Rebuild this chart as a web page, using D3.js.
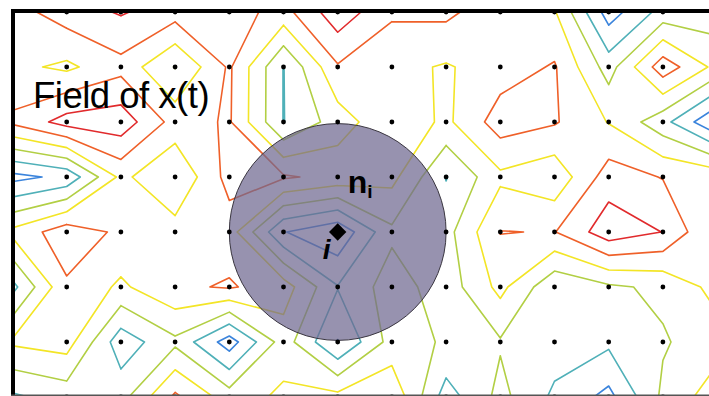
<!DOCTYPE html>
<html>
<head>
<meta charset="utf-8">
<script src="https://cdn.jsdelivr.net/npm/d3@7"></script>
<style>
  html, body { margin: 0; padding: 0; background: #ffffff; }
  svg { display: block; }
</style>
</head>
<body>
<script>
// Sampled field x(t) on the lattice, one array per lattice row (top to bottom)
const row0 = [4.6, 5.5, 6.1, 5.45, 5.43, 4.64, 6.64, 5.15, 5.24, 4.32, 4.1, 0.51, 2.37, 2.5];
const row1 = [4.25, 3.8, 4.67, 2.95, 5.15, 1.97, 4.9, 4.3, 3.9, 4.5, 5.1, 2.55, 5.6, 3.67];
const row2 = [5.2, 6.4, 6.6, 4.6, 5.11, 1.97, 3.48, 4.8, 3.78, 5.5, 5.1, 3.95, 2.35, 0.0];
const row3 = [0.7, 1.25, 4.25, 3.05, 5.37, 5.13, 4.7, 4.3, 1.95, 3.78, 3.27, 5.5, 4.95, 4.7];
const row4 = [4.27, 5.6, 4.8, 4.4, 4.5, 1.05, 0.2, 2.8, 2.64, 5.03, 4.96, 6.6, 5.98, 3.85];
const row5 = [1.7, 4.85, 3.82, 4.82, 5.1, 4.5, 2.05, 3.5, 2.45, 4.29, 2.2, 2.83, 3.2, 4.35];
const row6 = [4.16, 4.45, 1.4, 2.78, 0.5, 3.5, 0.95, 3.4, 2.9, 2.9, 2.5, 2.2, 2.9, 3.57];
const row7 = [1.83, 2.41, 2.62, 5.2, 3.5, 4.2, 4.3, 4.8, 1.52, 3.3, 1.8, 0.7, 3.2, 4.6];
const fieldRows = [row0, row1, row2, row3, row4, row5, row6, row7];

// Iso-levels drawn as contour lines (low to high)
const levels = [1, 2, 3, 4, 5, 6];

// Node i and the radius of its neighbourhood n_i, in lattice units
const nodeI = [6, 4];
const neighbourRadius = 2;

const titleText = "Field of x(t)";

const W = 709, H = 396;
const nCols = row0.length, nRows = fieldRows.length;

const svg = d3.select("body").append("svg")
  .attr("width", W).attr("height", H);

const x = d3.scaleLinear().domain([0, nCols - 1]).range([12.5, 717.1]);
const y = d3.scaleLinear().domain([0, nRows - 1]).range([12, 397]);
const color = d3.scaleOrdinal()
  .domain(levels)
  .range(["#3b84dc", "#4fb0b8", "#b2cf44", "#f3e526", "#ef6029", "#e12a2c"]);

// Marching squares with linear interpolation along cell edges
function isoSegments(grid, L) {
  const segs = [];
  for (let j = 0; j < grid.length - 1; j++) {
    for (let i = 0; i < grid[j].length - 1; i++) {
      const tl = grid[j][i], tr = grid[j][i + 1];
      const br = grid[j + 1][i + 1], bl = grid[j + 1][i];
      const pts = {};
      if ((tl > L) !== (tr > L)) pts.top = [i + (L - tl) / (tr - tl), j];
      if ((tr > L) !== (br > L)) pts.right = [i + 1, j + (L - tr) / (br - tr)];
      if ((bl > L) !== (br > L)) pts.bottom = [i + (L - bl) / (br - bl), j + 1];
      if ((tl > L) !== (bl > L)) pts.left = [i, j + (L - tl) / (bl - tl)];
      const keys = Object.keys(pts);
      if (keys.length === 2) {
        segs.push([pts[keys[0]], pts[keys[1]]]);
      } else if (keys.length === 4) {
        const centreHigh = (tl + tr + br + bl) / 4 > L;
        if ((tl > L) !== centreHigh) segs.push([pts.top, pts.left]);
        if ((tr > L) !== centreHigh) segs.push([pts.top, pts.right]);
        if ((br > L) !== centreHigh) segs.push([pts.right, pts.bottom]);
        if ((bl > L) !== centreHigh) segs.push([pts.bottom, pts.left]);
      }
    }
  }
  return segs;
}

// Plot area clip
svg.append("defs").append("clipPath").attr("id", "plotClip")
  .append("rect").attr("x", 13).attr("y", 11).attr("width", W - 13).attr("height", H - 11);

const plot = svg.append("g").attr("clip-path", "url(#plotClip)");

// Contour lines
const line = d3.line().x(d => x(d[0])).y(d => y(d[1]));
plot.append("g").attr("class", "contours")
  .selectAll("path")
  .data(levels)
  .join("path")
  .attr("fill", "none")
  .attr("stroke", d => color(d))
  .attr("stroke-width", 1.6)
  .attr("stroke-linejoin", "round")
  .attr("stroke-linecap", "round")
  .attr("d", L => isoSegments(fieldRows, L).map(s => line(s)).join(""));

// Neighbourhood n_i of node i
plot.append("circle")
  .attr("cx", x(nodeI[0]))
  .attr("cy", y(nodeI[1]))
  .attr("r", x(neighbourRadius) - x(0))
  .attr("fill", "#6f6890")
  .attr("fill-opacity", 0.72)
  .attr("stroke", "#3a3640")
  .attr("stroke-width", 1);

// Lattice nodes
const nodes = [];
fieldRows.forEach((row, j) => row.forEach((v, i) => nodes.push([i, j])));
plot.append("g").attr("class", "nodes")
  .selectAll("circle")
  .data(nodes)
  .join("circle")
  .attr("cx", d => x(d[0]))
  .attr("cy", d => y(d[1]))
  .attr("r", 2.4)
  .attr("fill", "#000");

// Node i marker
plot.append("path")
  .attr("transform", `translate(${x(nodeI[0])},${y(nodeI[1])}) rotate(45)`)
  .attr("d", d3.symbol().type(d3.symbolSquare).size(150)())
  .attr("fill", "#000");

// Labels
svg.append("text")
  .attr("x", 33).attr("y", 108)
  .attr("font-family", "'Liberation Sans', Arial, sans-serif")
  .attr("font-size", 36.5)
  .attr("letter-spacing", -0.5)
  .attr("fill", "#000")
  .text(titleText);

const nLabel = svg.append("text")
  .attr("x", x(nodeI[0]) + 10).attr("y", y(nodeI[1]) - 39)
  .attr("font-family", "'Liberation Sans', Arial, sans-serif")
  .attr("font-weight", "bold")
  .attr("font-size", 32)
  .attr("fill", "#000");
nLabel.append("tspan").text("n");
nLabel.append("tspan").attr("font-size", 19).attr("dy", 5).text("i");

svg.append("text")
  .attr("x", x(nodeI[0]) - 15).attr("y", y(nodeI[1]) + 27)
  .attr("font-family", "'Liberation Sans', Arial, sans-serif")
  .attr("font-weight", "bold")
  .attr("font-style", "italic")
  .attr("font-size", 28)
  .attr("fill", "#000")
  .text("i");

// Frame
svg.append("line").attr("x1", 11).attr("x2", W).attr("y1", 11).attr("y2", 11)
  .attr("stroke", "#000").attr("stroke-width", 4);
svg.append("line").attr("x1", 13).attr("x2", 13).attr("y1", 9).attr("y2", H)
  .attr("stroke", "#000").attr("stroke-width", 4);
svg.append("line").attr("x1", 11).attr("x2", W).attr("y1", H - 0.5).attr("y2", H - 0.5)
  .attr("stroke", "#555").attr("stroke-width", 2);
</script>
</body>
</html>
